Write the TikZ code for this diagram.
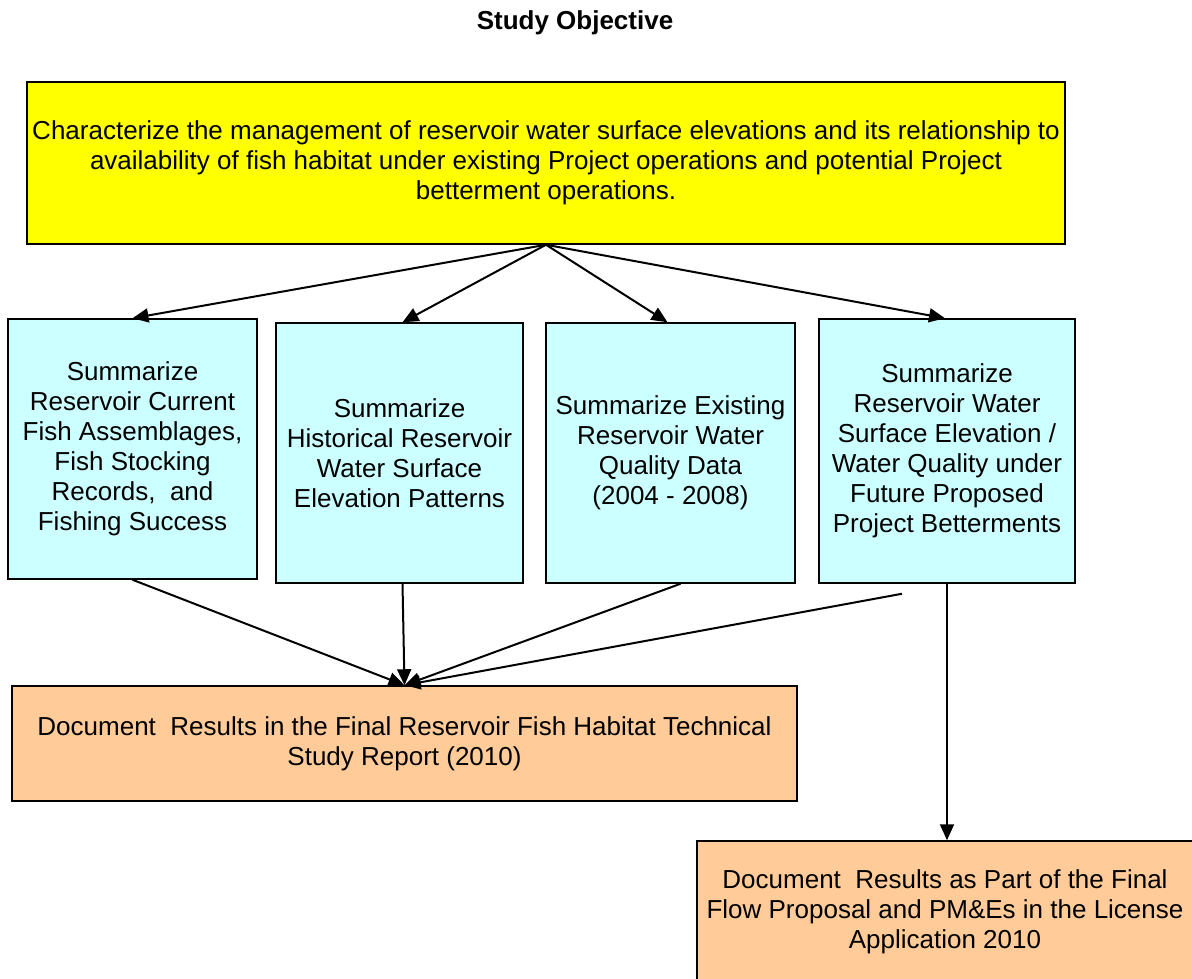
\documentclass[tikz,border=0pt]{standalone}
\usepackage{fontspec}
\setmainfont{Liberation Sans}
\usetikzlibrary{arrows.meta}
\definecolor{objyellow}{RGB}{255,255,0}
\definecolor{taskcyan}{HTML}{CCFFFF}
\definecolor{resultorange}{HTML}{FFCC99}

\begin{document}
\begin{tikzpicture}[x=1pt, y=-1pt,
	box/.style={draw=black, line width=1.5pt, align=center, inner sep=0pt, font=\fontsize{26}{30}\selectfont},
	objective/.style={box, fill=objyellow, minimum width=1038pt, minimum height=162pt},
	task/.style={box, fill=taskcyan, minimum height=260pt},
	result/.style={box, fill=resultorange},
	link/.style={-{Triangle[length=16pt, width=14pt]}, line width=2pt}]
	\useasboundingbox (0,0) rectangle (1192,978);
	
	\node[font=\bfseries\fontsize{26}{30}\selectfont] (title) at (575,23) {Study Objective};
	
	\node[objective] (objective) at (546,163) {Characterize the management of reservoir water surface elevations and its relationship to\\ availability of fish habitat under existing Project operations and potential Project\\ betterment operations.};
	
	\node[task, minimum width=249pt] (fish) at (132.5,449) {Summarize\\ Reservoir Current\\ Fish Assemblages,\\ Fish Stocking\\ Records,~ and\\ Fishing Success};
	\node[task, minimum width=247pt] (elevation) at (399.5,453) {Summarize\\ Historical Reservoir\\ Water Surface\\ Elevation Patterns};
	\node[task, minimum width=249pt] (quality) at (670.5,453) {Summarize Existing\\ Reservoir Water\\ Quality Data\\ (2004 - 2008)};
	\node[task, minimum width=256pt, minimum height=264pt] (future) at (947,451) {Summarize\\ Reservoir Water\\ Surface Elevation /\\ Water Quality under\\ Future Proposed\\ Project Betterments};
	
	\node[result, minimum width=785pt, minimum height=115pt] (report) at (404.5,743.5) {Document~ Results in the Final Reservoir Fish Habitat Technical\\ Study Report (2010)};
	\node[result, minimum width=496pt, minimum height=142pt] (license) at (945,912) {Document~ Results as Part of the Final\\ Flow Proposal and PM\&Es in the License\\ Application 2010};
	
	\draw[link] (objective.south) -- (fish.north);
	\draw[link] (objective.south) -- ([xshift=3pt]elevation.north);
	\draw[link] (objective.south) -- ([xshift=-3pt]quality.north);
	\draw[link] (objective.south) -- ([xshift=-2pt]future.north);
	
	\draw[link] (fish.south) -- (report.north);
	\draw[link] ([xshift=3pt]elevation.south) -- (report.north);
	\draw[link] ([xshift=10pt]quality.south) -- (report.north);
	\draw[link] ([xshift=-45pt, yshift=-10pt]future.south) -- (report.north);
	\draw[link] (future.south) -- (future.south |- license.north);
\end{tikzpicture}
\end{document}
